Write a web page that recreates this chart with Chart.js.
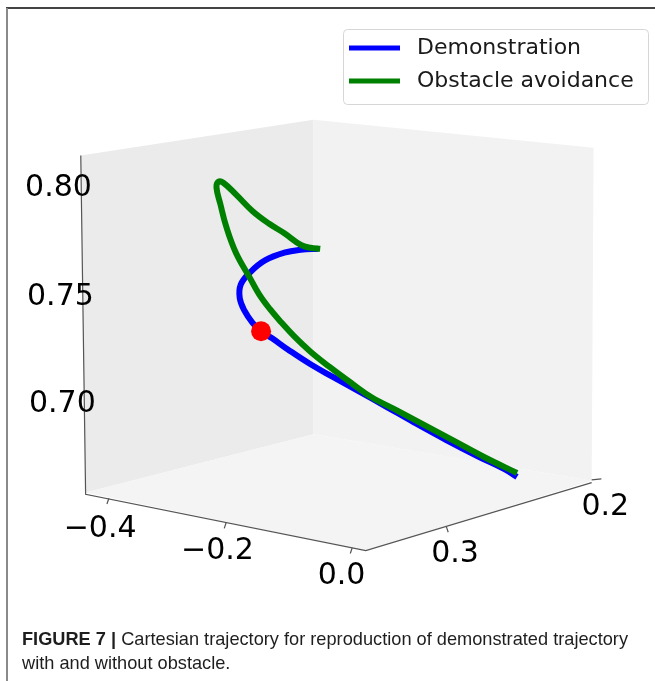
<!DOCTYPE html>
<html>
<head>
<meta charset="utf-8">
<script src="https://cdn.jsdelivr.net/npm/chart.js@4"></script>
<style>
  html, body { margin: 0; padding: 0; background: #ffffff; }
  #fig { display: block; }
</style>
</head>
<body>
<canvas id="fig" width="655" height="681"></canvas>
<script>
// projected trajectories (view units, y down)
const demo_x = [318, 300, 283, 263, 248, 238, 237, 242, 250, 259, 270, 287, 310, 333, 360, 387, 417, 450, 483, 510, 523];
const demo_y = [246, 247, 250, 258, 270, 283, 297, 310, 322, 331, 338, 350, 365, 378, 393, 408, 425, 443, 460, 473, 481];

const avoid_x = [320, 310, 300, 283, 267, 250, 233, 220, 215, 213, 217, 223, 233, 248, 257, 268, 280, 293, 310, 330, 353, 373, 400, 430, 460, 490, 523];
const avoid_y = [246, 245, 242, 230, 220, 207, 190, 178, 177, 183, 200, 223, 250, 277, 293, 308, 322, 336, 352, 368, 385, 399, 413, 429, 445, 461, 477];

const obstacle = [{x: 259, y: 331}];

const series_labels = ['Demonstration', 'Obstacle avoidance'];
const series_colors = ['#0000ff', '#008000'];

// 3d box: back panes, floor, axis lines
const pane_left = [[73, 150], [313, 113], [313, 437], [78, 497], [73, 150]];
const pane_right = [[313, 113], [602, 142], [600, 485], [313, 437], [313, 113]];
const pane_floor = [[78, 497], [313, 437], [600, 485], [367, 557], [78, 497]];
const axis_lines = [[73, 150], [78, 499], [367, 557], [600, 487]];
const tick_marks = [
    [[102, 503], [100, 509]], [[223, 528], [221, 534]], [[353, 554], [351, 560]],
    [[450, 532], [452, 538]], [[600, 484], [610, 483]]
];

const z_tick_labels = ['0.80', '0.75', '0.70'];
const z_tick_pos = [[50, 184], [52, 296], [54, 406]];
const x_tick_labels = ['\u22120.4', '\u22120.2', '0.0'];
const x_tick_pos = [[93, 535], [214, 558], [342, 583]];
const y_tick_labels = ['0.3', '0.2'];
const y_tick_pos = [[459, 561], [614, 512]];

const caption_bold = 'FIGURE 7 | ';
const caption_line1 = 'Cartesian trajectory for reproduction of demonstrated trajectory';
const caption_line2 = 'with and without obstacle.';

function toPoints(xs, ys) {
    return xs.map((x, i) => ({x: x, y: ys[i]}));
}
function pairPoints(arr) {
    return arr.map(p => ({x: p[0], y: p[1]}));
}
function segPoints(segs) {
    const out = [];
    segs.forEach(s => {
        out.push({x: s[0][0], y: s[0][1]});
        out.push({x: s[1][0], y: s[1][1]});
        out.push({x: s[1][0], y: null});
    });
    return out;
}

function paneSet(pts, color, order) {
    return {
        data: pairPoints(pts),
        showLine: true,
        fill: 'shape',
        backgroundColor: color,
        borderWidth: 0,
        borderColor: color,
        pointRadius: 0,
        tension: 0,
        order: order
    };
}

const figure_plugin = {
    id: 'figure_plugin',
    afterDraw(chart) {
        const c = chart.ctx;
        const sx = chart.scales.x, sy = chart.scales.y;
        const px = v => sx.getPixelForValue(v);
        const py = v => sy.getPixelForValue(v);
        c.save();

        // frame
        c.strokeStyle = '#444444';
        c.lineWidth = 2;
        c.beginPath(); c.moveTo(6, 8); c.lineTo(655, 8); c.stroke();
        c.strokeStyle = '#8a8a8a';
        c.beginPath(); c.moveTo(7, 8); c.lineTo(7, 681); c.stroke();

        // tick labels
        c.fillStyle = '#000000';
        c.font = '30px "DejaVu Sans"';
        c.textAlign = 'center';
        c.textBaseline = 'middle';
        const drawTicks = (labels, pos) => labels.forEach((t, i) => c.fillText(t, px(pos[i][0]), py(pos[i][1])));
        drawTicks(z_tick_labels, z_tick_pos);
        drawTicks(x_tick_labels, x_tick_pos);
        drawTicks(y_tick_labels, y_tick_pos);

        // legend
        const lx = 343, ly = 29, lw = 305, lh = 75;
        c.fillStyle = 'rgba(255,255,255,0.85)';
        c.strokeStyle = '#d6d6d6';
        c.lineWidth = 1;
        c.beginPath();
        c.roundRect(lx + 0.5, ly + 0.5, lw, lh, 4);
        c.fill(); c.stroke();
        c.font = '22px "DejaVu Sans"';
        c.textAlign = 'left';
        series_labels.forEach((lab, i) => {
            const yy = 48 + i * 33;
            c.strokeStyle = series_colors[i];
            c.lineWidth = 5;
            c.beginPath(); c.moveTo(349, yy); c.lineTo(400, yy); c.stroke();
            c.fillStyle = '#1a1a1a';
            c.fillText(lab, 417, yy);
        });

        // caption
        c.fillStyle = '#1e1e1e';
        c.textBaseline = 'alphabetic';
        const fam = '"Liberation Sans Narrow", "Liberation Sans", Arial, sans-serif';
        const bold = 'bold 19px ' + fam, reg = '19px ' + fam;
        c.font = bold; const wb = c.measureText(caption_bold).width;
        c.font = reg; const w1 = c.measureText(caption_line1).width;
        const k = 606 / (wb + w1);
        c.translate(22, 0);
        c.scale(k, 1);
        c.font = bold; c.fillText(caption_bold, 0, 645);
        c.font = reg; c.fillText(caption_line1, wb, 645);
        c.fillText(caption_line2, 0, 669);
        c.restore();
    }
};

window.onload = function() {
    const ctx = document.getElementById('fig').getContext('2d');
    const chart = new Chart(ctx, {
        type: 'scatter',
        data: {
            datasets: [
                {
                    label: 'obstacle',
                    data: obstacle,
                    pointRadius: 10,
                    pointBackgroundColor: '#ff0000',
                    pointBorderWidth: 0,
                    order: 0
                },
                {
                    label: series_labels[1],
                    data: toPoints(avoid_x, avoid_y),
                    showLine: true,
                    borderColor: series_colors[1],
                    borderWidth: 6,
                    pointRadius: 0,
                    tension: 0.4,
                    order: 1
                },
                {
                    label: series_labels[0],
                    data: toPoints(demo_x, demo_y),
                    showLine: true,
                    borderColor: series_colors[0],
                    borderWidth: 6,
                    pointRadius: 0,
                    tension: 0.4,
                    order: 2
                },
                {
                    data: pairPoints(axis_lines),
                    showLine: true,
                    borderColor: '#555555',
                    borderWidth: 1.2,
                    pointRadius: 0,
                    tension: 0,
                    order: 3
                },
                {
                    data: segPoints(tick_marks),
                    showLine: true,
                    spanGaps: false,
                    borderColor: '#555555',
                    borderWidth: 1.2,
                    pointRadius: 0,
                    tension: 0,
                    order: 3
                },
                paneSet(pane_floor, '#f4f4f4', 4),
                paneSet(pane_right, '#f2f2f2', 5),
                paneSet(pane_left, '#ebebeb', 6)
            ]
        },
        options: {
            responsive: false,
            animation: false,
            layout: { padding: 0 },
            plugins: {
                legend: { display: false },
                tooltip: { enabled: false }
            },
            scales: {
                x: { type: 'linear', min: 0, max: 655, display: false },
                y: { type: 'linear', min: 0, max: 681, reverse: true, display: false }
            }
        },
        plugins: [figure_plugin]
    });
};
</script>
</body>
</html>
